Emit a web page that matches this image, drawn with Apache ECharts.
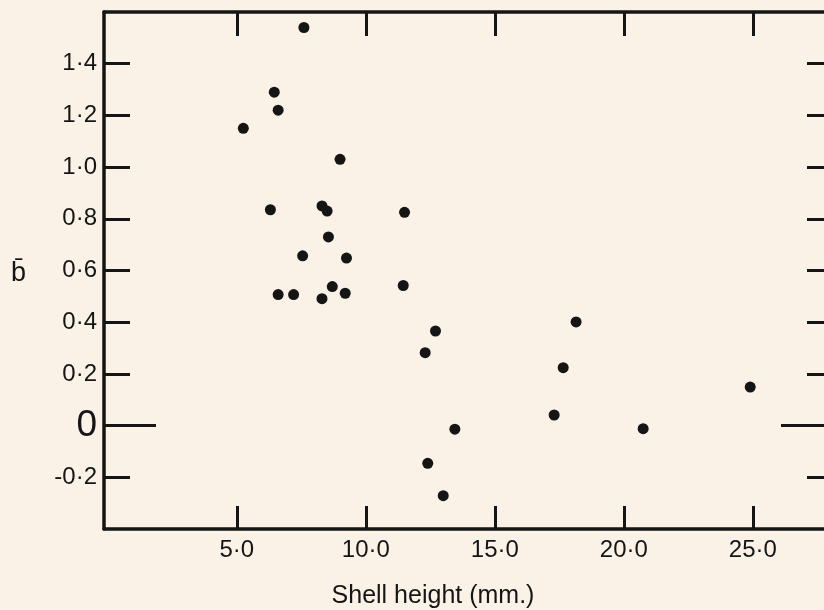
<!DOCTYPE html>
<html>
<head>
<meta charset="utf-8">
<script src="https://cdn.jsdelivr.net/npm/echarts@6/dist/echarts.min.js"></script>
<style>
  html, body { margin: 0; padding: 0; background: #faf2e7; }
  #chart { width: 824px; height: 610px; }
</style>
</head>
<body>
<div id="chart"></div>
<script>
  // shell height (mm) vs mean b
  const heightMm = [7.6, 6.45, 6.6, 5.25, 9.0, 6.3, 8.3, 8.5, 11.5, 8.55, 7.55, 9.25, 8.7, 11.45,
    6.6, 7.2, 8.3, 9.2, 12.7, 12.3, 18.15, 17.65, 24.9, 17.3, 13.45, 20.75, 12.4, 13.0];
  const bBar = [1.54, 1.29, 1.22, 1.15, 1.03, 0.835, 0.85, 0.83, 0.825, 0.73, 0.657, 0.648, 0.538, 0.542,
    0.507, 0.507, 0.491, 0.512, 0.366, 0.282, 0.401, 0.224, 0.149, 0.041, -0.014, -0.012, -0.146, -0.271];

  const xTicks = [5, 10, 15, 20, 25];
  const yTicks = [-0.2, 0, 0.2, 0.4, 0.6, 0.8, 1.0, 1.2, 1.4];

  const INK = '#151515';
  const FONT = 'Liberation Sans';
  const dotFmt = v => v.toFixed(1).replace('.', '\u00b7');

  const chart = echarts.init(document.getElementById('chart'), null, { renderer: 'canvas' });

  const yBase = { type: 'value', min: -0.4, max: 1.6, splitLine: { show: false } };
  const xBase = { type: 'value', min: -0.15, max: 27.76, splitLine: { show: false } };
  const line = { show: true, onZero: false, lineStyle: { color: INK, width: 3.5 } };
  const noLine = { show: false, onZero: false };
  const tick = (vals, len) => ({ show: true, inside: true, length: len, customValues: vals, lineStyle: { color: INK, width: 3 } });
  // the plate is trimmed: the right-hand frame sits just past the page edge
  const CUT = 9;

  chart.setOption({
    backgroundColor: '#faf2e7',
    animation: false,
    grid: { left: 104, right: 0, top: 12, bottom: 81 },
    xAxis: [
      Object.assign({}, xBase, {
        position: 'bottom', axisLine: line, axisTick: tick(xTicks, 23),
        axisLabel: { show: true, customValues: xTicks, margin: 9, color: INK, fontFamily: FONT, fontSize: 24, formatter: dotFmt },
      }),
      Object.assign({}, xBase, {
        position: 'top', axisLine: line, axisTick: tick(xTicks, 24), axisLabel: { show: false },
      }),
    ],
    yAxis: [
      Object.assign({}, yBase, {
        position: 'left', axisLine: line, axisTick: tick(yTicks.filter(v => v !== 0), 26),
        axisLabel: {
          show: true, customValues: yTicks, margin: 7, color: INK, fontFamily: FONT, fontSize: 24,
          formatter: v => Math.abs(v) < 1e-9 ? '{z|0}' : dotFmt(v),
          rich: { z: { fontSize: 37, fontFamily: FONT, color: INK } },
        },
      }),
      Object.assign({}, yBase, {
        position: 'right', offset: CUT, axisLine: line, axisTick: tick(yTicks.filter(v => v !== 0), 26), axisLabel: { show: false },
      }),
      // longer zero ticks on both sides
      Object.assign({}, yBase, {
        position: 'left', axisLine: noLine, axisTick: tick([0], 52), axisLabel: { show: false },
      }),
      Object.assign({}, yBase, {
        position: 'right', offset: CUT, axisLine: noLine, axisTick: tick([0], 52), axisLabel: { show: false },
      }),
    ],
    graphic: [
      { type: 'text', left: 11, top: 260, style: { text: 'b\u0304', font: '27px "Liberation Sans"', fill: INK } },
      { type: 'text', x: 433, y: 596, style: { text: 'Shell height (mm.)', font: '25px "Liberation Sans"', fill: INK, align: 'center', verticalAlign: 'middle' } },
    ],
    series: [{
      type: 'scatter', xAxisIndex: 0, yAxisIndex: 0,
      symbol: 'circle', symbolSize: 11,
      itemStyle: { color: INK, opacity: 1 },
      data: heightMm.map((h, i) => [h, bBar[i]]),
    }],
  });
</script>
</body>
</html>
